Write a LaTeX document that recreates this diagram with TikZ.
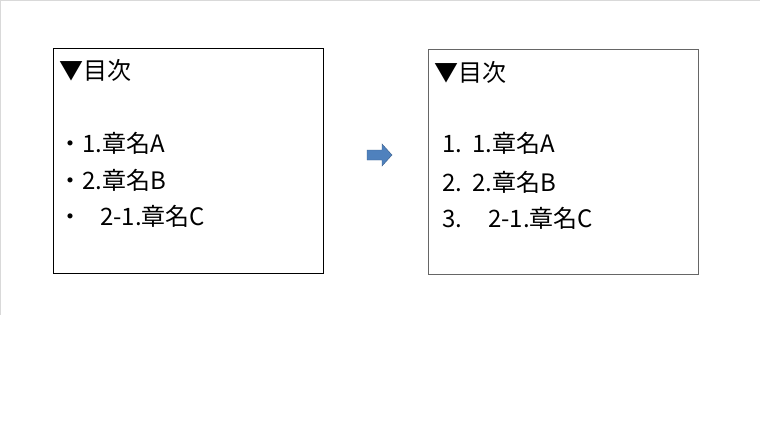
\documentclass[tikz,border=0pt]{standalone}
\usepackage{fontspec}
\setmainfont{Noto Sans CJK JP}
\usepackage{tikz}
\usetikzlibrary{arrows.meta, positioning}

\definecolor{arrowblue}{HTML}{4F81BD}
\definecolor{arrowedge}{HTML}{385D8A}
\definecolor{pagegray}{HTML}{D9D9D9}

\tikzset{
  tocbox/.style={draw, minimum width=270pt, minimum height=225pt, inner sep=0pt},
  entry/.style={anchor=base west, inner sep=0pt, font=\fontsize{24}{28}\selectfont}
}

\begin{document}
\begin{tikzpicture}[x=1pt, y=-1pt]
\useasboundingbox (0,0) rectangle (760,425);

% Draw page edge
\draw[pagegray] (0,0.5) -- (760,0.5);
\draw[pagegray] (0.5,0) -- (0.5,315);

% Draw box before
\node[tocbox, draw=black] (before) at (188,160.5) {};
\node[entry] (beforetitle) at (59,80) {▼目次};
\node[entry] (beforea) at (58,152) {・1.章名A};
\node[entry] (beforeb) at (58,189) {・2.章名B};
\node[entry] (beforec) at (58,225) {・\hspace{18pt}2-1.章名C};

% Draw box after
\node[tocbox, draw=black!60] (after) at (563,162) {};
\node[entry] (aftertitle) at (434,82) {▼目次};
\node[entry] (aftera) at (442,153) {\makebox[30pt][l]{1.}1.章名A};
\node[entry] (afterb) at (442,191) {\makebox[30pt][l]{2.}2.章名B};
\node[entry] (afterc) at (442,227) {\makebox[30pt][l]{3.}\hspace{16pt}2-1.章名C};

% Draw block arrow
\draw[fill=arrowblue, draw=arrowedge, line join=miter]
  (367,150) -- (382,150) -- (382,144) -- (392,155) -- (382,166) -- (382,160) -- (367,160) -- cycle;

\end{tikzpicture}
\end{document}
